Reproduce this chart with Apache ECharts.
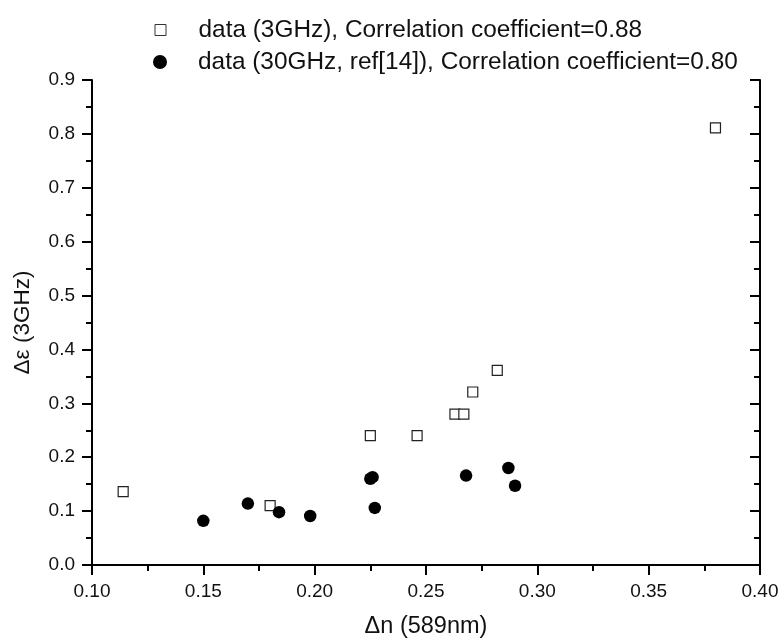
<!DOCTYPE html>
<html>
<head>
<meta charset="utf-8">
<script src="https://cdn.jsdelivr.net/npm/echarts@6/dist/echarts.min.js"></script>
<style>html,body{margin:0;padding:0;background:#fff}#c{width:782px;height:644px}</style>
</head>
<body>
<div id="c"></div>
<script>
// Data: [Δn (589nm), Δε]
const seriesNames = ['data (3GHz), Correlation coefficient=0.88', 'data (30GHz, ref[14]), Correlation coefficient=0.80'];
const data3GHz = [
  [0.114, 0.136], [0.180, 0.110], [0.225, 0.240], [0.246, 0.240],
  [0.263, 0.280], [0.267, 0.280], [0.271, 0.321], [0.282, 0.361], [0.380, 0.811]
];
const data30GHz = [
  [0.150, 0.082], [0.170, 0.114], [0.184, 0.098], [0.198, 0.091],
  [0.225, 0.160], [0.226, 0.163], [0.227, 0.106], [0.268, 0.166],
  [0.287, 0.180], [0.290, 0.147]
];
const xTicks = { min: 0.10, max: 0.40, interval: 0.05 };
const yTicks = { min: 0.0, max: 0.9, interval: 0.1 };
const xTitle = '\u0394n (589nm)';
const yTitle = '\u0394\u03b5 (3GHz)';

const FONT = 'Liberation Sans';
const chart = echarts.init(document.getElementById('c'), null, { renderer: 'canvas' });
const axisCommon = {
  axisLine: { show: true, lineStyle: { color: '#000', width: 2 } },
  axisTick: { show: true, length: 10, lineStyle: { color: '#000', width: 2 } },
  minorTick: { show: true, splitNumber: 2, length: 6, lineStyle: { color: '#000', width: 2 } },
  splitLine: { show: false },
  minorSplitLine: { show: false }
};
const legendText = { fontFamily: FONT, fontSize: 24.4, color: '#111', lineHeight: 26 };
chart.setOption({
  animation: false,
  backgroundColor: '#fff',
  textStyle: { fontFamily: FONT },
  grid: { left: 92, right: 22, top: 80, bottom: 74, containLabel: false },
  legend: [{
    orient: 'vertical', left: 149.5, top: 12, padding: 5,
    itemWidth: 11, itemHeight: 11, selectedMode: false,
    itemStyle: { color: '#fff', borderColor: '#333', borderWidth: 1 },
    textStyle: Object.assign({ padding: [0, 0, 0, 27.5] }, legendText),
    data: [{ name: seriesNames[0], icon: 'rect' }]
  }, {
    orient: 'vertical', left: 148, top: 44, padding: 5,
    itemWidth: 14, itemHeight: 14, selectedMode: false,
    textStyle: Object.assign({ padding: [0, 0, 0, 26] }, legendText),
    data: [{ name: seriesNames[1], icon: 'circle' }]
  }],
  xAxis: [{
    type: 'value', min: xTicks.min, max: xTicks.max, interval: xTicks.interval,
    name: xTitle, nameLocation: 'middle', nameGap: 50,
    nameTextStyle: { fontFamily: FONT, fontSize: 23.5, color: '#111' },
    axisLabel: { margin: 17, fontFamily: FONT, fontSize: 19, color: '#111',
      formatter: v => v.toFixed(2) },
    ...axisCommon
  }],
  yAxis: [{
    type: 'value', min: yTicks.min, max: yTicks.max, interval: yTicks.interval,
    name: yTitle, nameLocation: 'middle', nameGap: 58,
    nameTextStyle: { fontFamily: FONT, fontSize: 22.5, color: '#111' },
    axisLabel: { margin: 17, fontFamily: FONT, fontSize: 19, color: '#111',
      formatter: v => v.toFixed(1) },
    ...axisCommon
  }, {
    type: 'value', min: yTicks.min, max: yTicks.max, interval: yTicks.interval,
    position: 'right',
    axisLabel: { show: false },
    axisLine: { show: true, lineStyle: { color: '#000', width: 2 } },
    axisTick: { show: true, inside: true, length: 10, lineStyle: { color: '#000', width: 2 } },
    minorTick: { show: true, splitNumber: 2, length: 6, lineStyle: { color: '#000', width: 2 } },
    splitLine: { show: false }
  }],
  series: [{
    name: seriesNames[0], type: 'scatter', symbol: 'rect', symbolSize: 10,
    itemStyle: { color: '#fff', borderColor: '#222', borderWidth: 1.2, opacity: 1 },
    data: data3GHz, z: 3
  }, {
    name: seriesNames[1], type: 'scatter', symbol: 'circle', symbolSize: 12.5,
    itemStyle: { color: '#000', opacity: 1 },
    data: data30GHz, z: 4
  }]
});
</script>
</body>
</html>
